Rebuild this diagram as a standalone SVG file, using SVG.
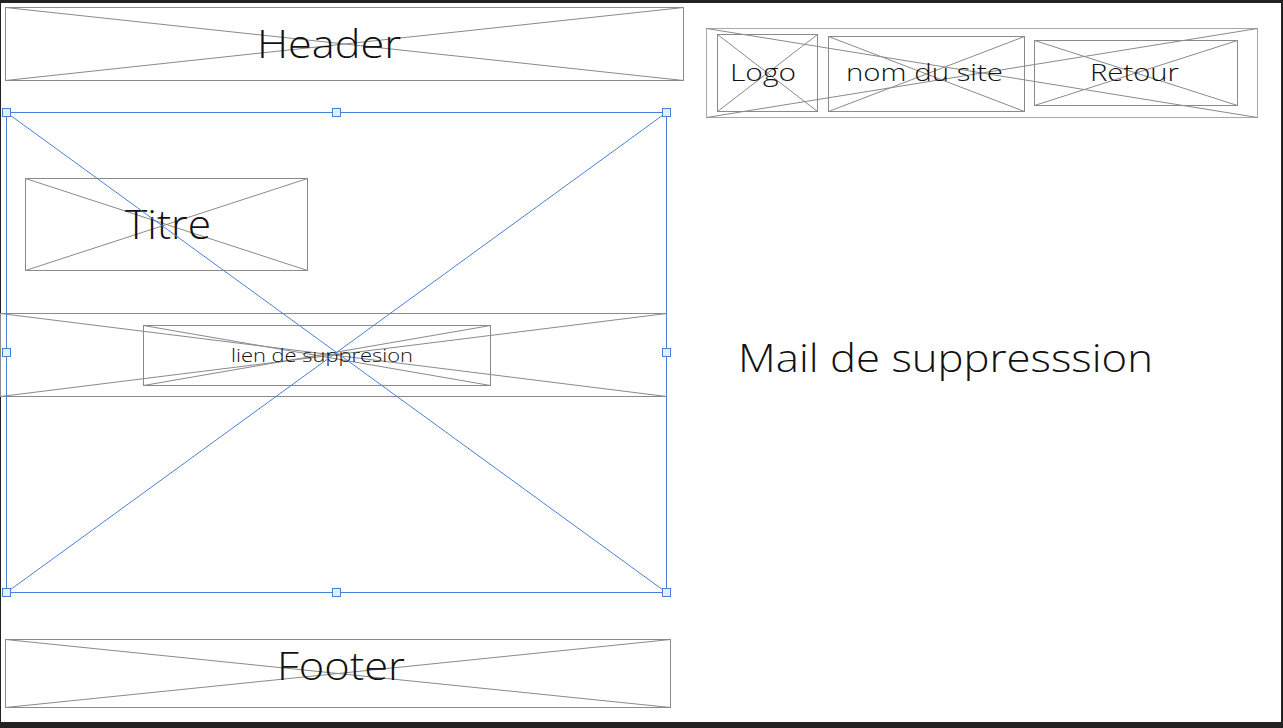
<svg xmlns="http://www.w3.org/2000/svg" width="1283" height="728" viewBox="0 0 1283 728">
<style>
.box{fill:none;stroke:#8a8a8a;stroke-width:1}
.lt{fill:none;stroke:#a8a8a8;stroke-width:1}
.sel{fill:none;stroke:#4a7fd8;stroke-width:1}
.h{fill:#e6eefb;stroke:#4a7fd8;stroke-width:1}
text{font-family:"Open Sans","Noto Sans","Liberation Sans",sans-serif;font-weight:300;fill:#111;text-anchor:middle}
</style>
<rect x="0" y="0" width="1283" height="728" fill="#222"/>
<rect x="1" y="3" width="1280" height="719" fill="#fff"/>

<g id="header">
<rect class="box" x="5.5" y="7.5" width="678" height="73"/>
<path class="box" d="M5.5 7.5L683.5 80.5M5.5 80.5L683.5 7.5"/>
<text x="329" y="58" font-size="38" textLength="144" lengthAdjust="spacingAndGlyphs">Header</text>
</g>

<g id="band">
<rect class="box" x="0.5" y="313.5" width="666" height="83"/>
<path class="box" d="M0.5 313.5L666.5 396.5M0.5 396.5L666.5 313.5"/>
</g>

<g id="lien">
<rect class="box" x="143.5" y="325.5" width="347" height="60"/>
<path class="box" d="M143.5 325.5L490.5 385.5M143.5 385.5L490.5 325.5"/>
<text x="322" y="362" font-size="18" textLength="182" lengthAdjust="spacingAndGlyphs">lien de suppresion</text>
</g>

<g id="titre">
<rect class="box" x="25.5" y="178.5" width="282" height="92"/>
<path class="box" d="M25.5 178.5L307.5 270.5M25.5 270.5L307.5 178.5"/>
<text x="168" y="239" font-size="40" textLength="86" lengthAdjust="spacingAndGlyphs">Titre</text>
</g>

<g id="selection">
<rect class="sel" x="6.5" y="112.5" width="660" height="480"/>
<path class="sel" d="M6.5 112.5L666.5 592.5M6.5 592.5L666.5 112.5"/>
<rect class="h" x="2.5" y="108.5" width="8" height="8"/>
<rect class="h" x="332.5" y="108.5" width="8" height="8"/>
<rect class="h" x="662.5" y="108.5" width="8" height="8"/>
<rect class="h" x="2.5" y="348.5" width="8" height="8"/>
<rect class="h" x="662.5" y="348.5" width="8" height="8"/>
<rect class="h" x="2.5" y="588.5" width="8" height="8"/>
<rect class="h" x="332.5" y="588.5" width="8" height="8"/>
<rect class="h" x="662.5" y="588.5" width="8" height="8"/>
</g>

<g id="footer">
<rect class="box" x="5.5" y="639.5" width="665" height="68"/>
<path class="box" d="M5.5 639.5L670.5 707.5M5.5 707.5L670.5 639.5"/>
<text x="341" y="680" font-size="38" textLength="128" lengthAdjust="spacingAndGlyphs">Footer</text>
</g>

<g id="nav">
<rect class="lt" x="706.5" y="28.5" width="551" height="89"/>
<path class="box" d="M706.5 28.5L1257.5 117.5M706.5 117.5L1257.5 28.5"/>
</g>
<g id="logo">
<rect class="box" x="717.5" y="34.5" width="100" height="77"/>
<path class="box" d="M717.5 34.5L817.5 111.5M717.5 111.5L817.5 34.5"/>
<text x="763" y="81" font-size="24" textLength="66" lengthAdjust="spacingAndGlyphs">Logo</text>
</g>
<g id="nom">
<rect class="box" x="828.5" y="36.5" width="196" height="75"/>
<path class="box" d="M828.5 36.5L1024.5 111.5M828.5 111.5L1024.5 36.5"/>
<text x="924.5" y="81" font-size="24" textLength="157" lengthAdjust="spacingAndGlyphs">nom du site</text>
</g>
<g id="retour">
<rect class="box" x="1034.5" y="40.5" width="203" height="65"/>
<path class="box" d="M1034.5 40.5L1237.5 105.5M1034.5 105.5L1237.5 40.5"/>
<text x="1134.5" y="81" font-size="24" textLength="89" lengthAdjust="spacingAndGlyphs">Retour</text>
</g>

<g id="mail">
<text x="945.5" y="372" font-size="39" textLength="415" lengthAdjust="spacingAndGlyphs">Mail de suppresssion</text>
</g>
</svg>
